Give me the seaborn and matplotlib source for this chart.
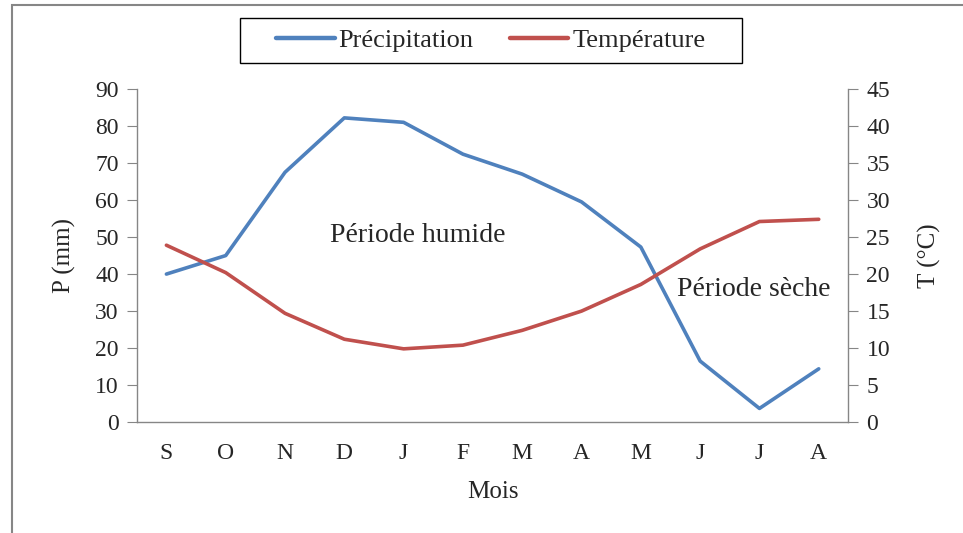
import pandas as pd
import matplotlib.pyplot as plt
import seaborn as sns
from matplotlib.patches import Rectangle
from matplotlib.lines import Line2D

sns.set_style("white")
plt.rcParams['font.family'] = ['Liberation Serif', 'DejaVu Serif']

# données climatiques (septembre -> août)
mois = ["S", "O", "N", "D", "J", "F", "M", "A", "M", "J", "J", "A"]
precipitation = [40, 45, 67.5, 82.2, 81, 72.4, 67, 59.5, 47.3, 16.5, 3.7, 14.4]
temperature = [23.9, 20.2, 14.7, 11.2, 9.9, 10.4, 12.4, 15, 18.6, 23.4, 27.1, 27.4]

df = pd.DataFrame({
    "pos": range(len(mois)),
    "Précipitation": precipitation,
    "Température": temperature,
})

bleu = "#4F81BD"
rouge = "#C0504D"
gris = "#868686"

fig = plt.figure(figsize=(9.63, 5.33), dpi=100)
ax = fig.add_axes([0.142, 0.208, 0.739, 0.625])
ax2 = ax.twinx()

sns.lineplot(data=df, x="pos", y="Précipitation", ax=ax, color=bleu, linewidth=2.6)
sns.lineplot(data=df, x="pos", y="Température", ax=ax2, color=rouge, linewidth=2.6)

ax.set_xlim(-0.5, 11.5)
ax.set_ylim(0, 90)
ax2.set_ylim(0, 45)
ax.set_yticks(range(0, 91, 10))
ax2.set_yticks(range(0, 46, 5))
ax.set_xticks(range(len(mois)))
ax.set_xticklabels(mois)

for a in (ax, ax2):
    for s in a.spines.values():
        s.set_visible(False)
ax.spines['left'].set_visible(True)
ax.spines['bottom'].set_visible(True)
ax2.spines['right'].set_visible(True)
for s in (ax.spines['left'], ax.spines['bottom'], ax2.spines['right']):
    s.set_color(gris)
    s.set_linewidth(1.0)

ax.tick_params(axis='y', direction='out', length=7, color=gris, labelsize=17, pad=6, left=True)
ax2.tick_params(axis='y', direction='out', length=7, color=gris, labelsize=17, pad=6, right=True)
ax.tick_params(axis='x', length=0, labelsize=17, pad=15)

ax.set_xlabel("Mois", fontsize=18, labelpad=12)
ax.set_ylabel("P (mm)", fontsize=18, labelpad=14)
ax2.set_ylabel("T (°C)", fontsize=18, labelpad=20)

ax.text(4.23, 50.3, "Période humide", fontsize=20, ha='center', va='center')
ax.text(9.9, 35.7, "Période sèche", fontsize=20, ha='center', va='center')

handles = [Line2D([], [], color=bleu, linewidth=3.2), Line2D([], [], color=rouge, linewidth=3.2)]
leg = fig.legend(handles, ["Précipitation", "Température"], loc='center',
                 bbox_to_anchor=(491 / 963, 1 - 40 / 533), ncol=2, fontsize=19,
                 frameon=False, handlelength=2.2,
                 handletextpad=0.15, columnspacing=1.4, borderpad=0.35)

# cadre de la légende
fig.patches.append(Rectangle((240 / 963, 1 - 63 / 533), 502 / 963, 45 / 533,
                             transform=fig.transFigure, fill=False,
                             edgecolor='black', linewidth=1.0))

# cadre gris autour du graphique
fig.patches.append(Rectangle((12 / 963, -0.1), 1.1, 1 - 5 / 533 + 0.1,
                             transform=fig.transFigure, fill=False,
                             edgecolor=gris, linewidth=1.5))

plt.savefig("out.png", dpi=100)
